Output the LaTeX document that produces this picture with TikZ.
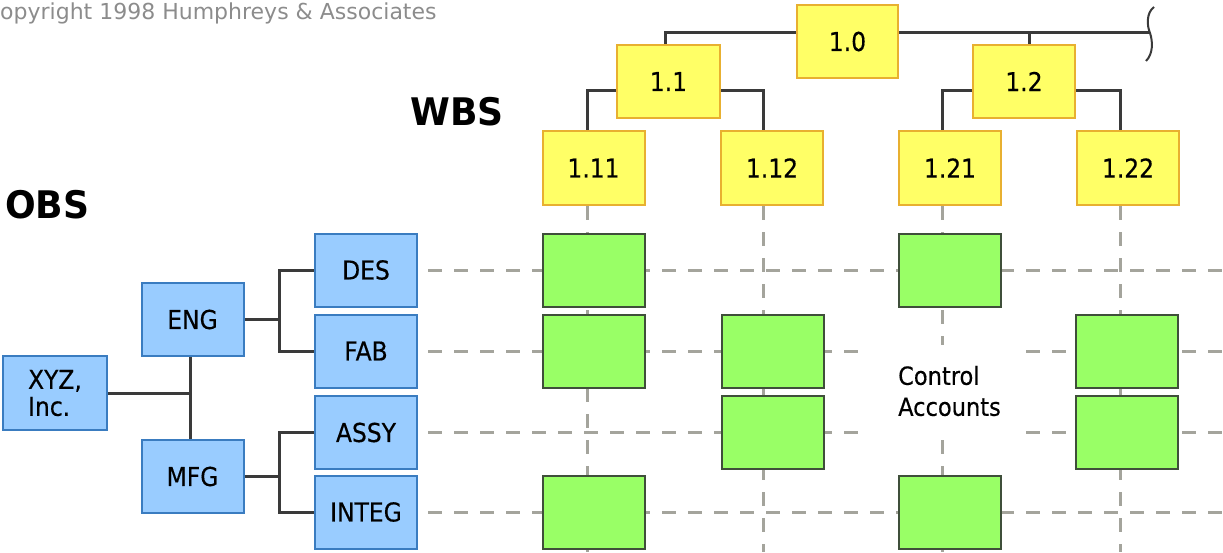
\documentclass[tikz,border=0pt]{standalone}
\usepackage{fontspec}
\setmainfont{DejaVu Sans}
\newfontfamily\lbl[FakeStretch=0.9,FakeBold=0.4]{DejaVu Sans}
\newfontfamily\ttl[FakeStretch=0.95]{DejaVu Sans}
\definecolor{yfill}{HTML}{FFFF66}
\definecolor{yline}{HTML}{E8B030}
\definecolor{bfill}{HTML}{99CCFF}
\definecolor{bline}{HTML}{3A7CC0}
\definecolor{gfill}{HTML}{99FF66}
\definecolor{gline}{HTML}{3F4F3A}
\definecolor{conn}{HTML}{3A3A3A}
\definecolor{dashc}{HTML}{A4A49C}
\definecolor{copyc}{HTML}{8C8C8C}
\tikzset{
  boxbase/.style={rectangle, line width=2pt, minimum width=102pt, minimum height=73pt, inner sep=0pt,
    font=\lbl\fontsize{26}{29}\selectfont},
  ybox/.style={boxbase, draw=yline, fill=yfill},
  bbox/.style={boxbase, draw=bline, fill=bfill},
  gbox/.style={boxbase, draw=gline, fill=gfill},
  connline/.style={draw=conn, line width=3pt},
  dashline/.style={draw=dashc, line width=3pt, dash pattern=on 14pt off 12pt},
  heading/.style={anchor=base west, inner sep=0pt, font=\ttl\bfseries\fontsize{38}{40}\selectfont}
}
\begin{document}
\begin{tikzpicture}[x=1pt,y=-1pt]
\useasboundingbox (0,0) rectangle (1223,552);
\clip (0,0) rectangle (1223,552);

% copyright and headings
\node[anchor=base west, inner sep=0pt, text=copyc, font=\fontsize{22}{26}\selectfont] (copy) at (0,19) {opyright 1998 Humphreys \& Associates};
\node[heading] (obs) at (5,218) {OBS};
\node[heading] (wbs) at (410,125) {WBS};

% helper coordinates
\coordinate (topL) at (665,32);
\coordinate (topR) at (1149,32);
\coordinate (s12) at (1029,32);
\coordinate (h1) at (0,90);
\coordinate (c1) at (587,0);
\coordinate (c2) at (763,0);
\coordinate (c3) at (942,0);
\coordinate (c4) at (1120,0);
\coordinate (L) at (428,0);
\coordinate (R) at (1223,0);
\coordinate (B) at (0,552);
\coordinate (e) at (279,0);
\coordinate (xv) at (190,0);

% WBS nodes
\node[ybox, minimum width=101pt] (n10) at (847.5,41.5) {1.0};
\node[ybox, minimum width=103pt] (n11) at (668.5,81.5) {1.1};
\node[ybox] (n12) at (1024,81.5) {1.2};
\node[ybox, minimum height=74pt] (n111) at (593.5,168) {1.11};
\node[ybox, minimum height=74pt] (n112) at (772,168) {1.12};
\node[ybox, minimum height=74pt] (n121) at (950,168) {1.21};
\node[ybox, minimum height=74pt] (n122) at (1128,168) {1.22};

% OBS nodes
\node[bbox, minimum width=104pt, minimum height=74pt, align=left, font=\lbl\fontsize{26}{27}\selectfont] (xyz) at (55,393) {XYZ,\\Inc.};
\node[bbox] (eng) at (192.5,319.5) {ENG};
\node[bbox] (mfg) at (192.5,476.5) {MFG};
\node[bbox] (des) at (366,270) {DES};
\node[bbox] (fab) at (366,351) {FAB};
\node[bbox] (assy) at (366,432.5) {ASSY};
\node[bbox] (integ) at (366,512) {INTEG};

% WBS connectors
\draw[connline] (n11.north -| topL) -- (topL) -- (n10.west |- topL);
\draw[connline] (n10.east |- topL) -- (topR);
\draw[connline] (s12) -- (n12.north -| s12);
\draw[connline] (n11.west |- h1) -| (n111.north -| c1);
\draw[connline] (n11.east |- h1) -| (n112.north -| c2);
\draw[connline] (n12.west |- h1) -| (n121.north -| c3);
\draw[connline] (n12.east |- h1) -| (n122.north -| c4);
\draw[draw=conn, line width=2pt] (1154,7) .. controls (1146,13) and (1147,26) .. (1150,33)
   .. controls (1153,42) and (1153,54) .. (1146,61);

% OBS connectors
\draw[connline] (eng.east) -- (eng.east -| e);
\draw[connline] (des.west) -| (fab.west -| e) -- (fab.west);
\draw[connline] (mfg.east) -- (mfg.east -| e);
\draw[connline] (assy.west) -| (integ.west -| e) -- (integ.west);
\draw[connline] (eng.south -| xv) -- (mfg.north -| xv);
\draw[connline] (xyz.east) -- (xyz.east -| xv);

% dashed grid
\foreach \r in {des,fab,assy,integ}{
  \draw[dashline] (\r.east -| L) -- (\r.east -| R);
}
\draw[dashline] (n111.south -| c1) -- (c1 |- B);
\draw[dashline] (n112.south -| c2) -- (c2 |- B);
\draw[dashline] (n121.south -| c3) -- (c3 |- B);
\draw[dashline] (n122.south -| c4) -- (c4 |- B);

% control accounts
\node[gbox] (g1d) at (593.5,270.5) {};
\node[gbox] (g1f) at (593.5,351.5) {};
\node[gbox] (g1i) at (593.5,512.5) {};
\node[gbox] (g2f) at (773,351.5) {};
\node[gbox] (g2a) at (773,432.5) {};
\node[gbox] (g3d) at (949.5,270.5) {};
\node[gbox] (g3i) at (949.5,512.5) {};
\node[gbox] (g4f) at (1127,351.5) {};
\node[gbox] (g4a) at (1127,432.5) {};

\fill[white] (862,345) rectangle (1016,436);
\node[anchor=west, inner sep=0pt, align=left, font=\lbl\fontsize{25}{31}\selectfont] (ca) at (898,391) {Control\\Accounts};
\end{tikzpicture}
\end{document}
